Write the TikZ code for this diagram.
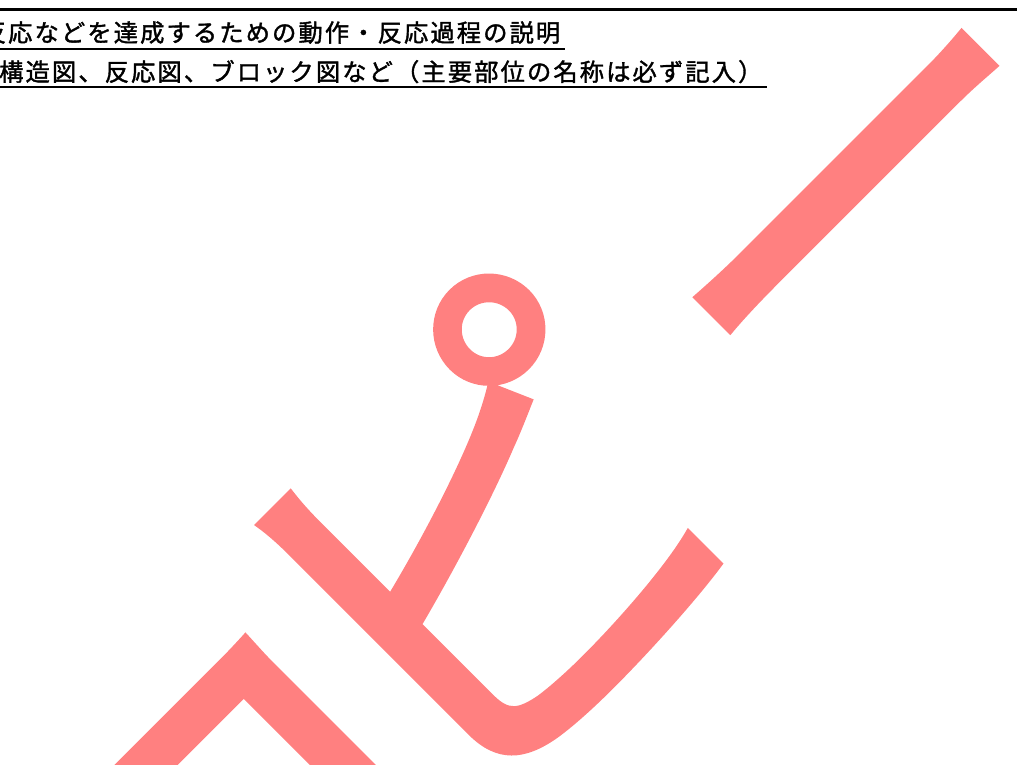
\documentclass[tikz,border=0pt]{standalone}
\usepackage{fontspec}
\newfontfamily\jpfont[LetterSpace=8.6,FakeBold=1.5]{Noto Sans CJK JP}
\newfontfamily\wmfont[FakeBold=1.5]{Noto Sans CJK JP}
\definecolor{wmpink}{RGB}{255,128,128}
\begin{document}
\begin{tikzpicture}[x=1pt,y=1pt,
  heading/.style={anchor=base west, inner sep=0pt, text=black,
    font=\jpfont\fontsize{24.3}{26}\selectfont},
  watermark/.style={anchor=base west, rotate=45, inner sep=0pt, text=wmpink,
    font=\wmfont\fontsize{470}{470}\selectfont},
  rule/.style={draw=black, line width=#1}]
\useasboundingbox (0,0) rectangle (1017,-765);
\clip (0,0) rectangle (1017,-765);
\node[watermark] (wm) at (163.3,-1119.4) {\raisebox{-38pt}{コ}\kern-69ptピ\kern40ptー};
\draw[rule=2.7pt] (0,-9.7) -- (1017,-9.7);
\node[heading] (l1) at (-18.4,-41.7) {反応などを達成するための動作・反応過程の説明};
\node[heading] (l2) at (-1,-80.9) {構造図、反応図、ブロック図など（主要部位の名称は必ず記入）};
\draw[rule=2.3pt] (0,-49.2) -- (565,-49.2);
\draw[rule=2pt] (0,-87.5) -- (767,-87.5);
\end{tikzpicture}
\end{document}
